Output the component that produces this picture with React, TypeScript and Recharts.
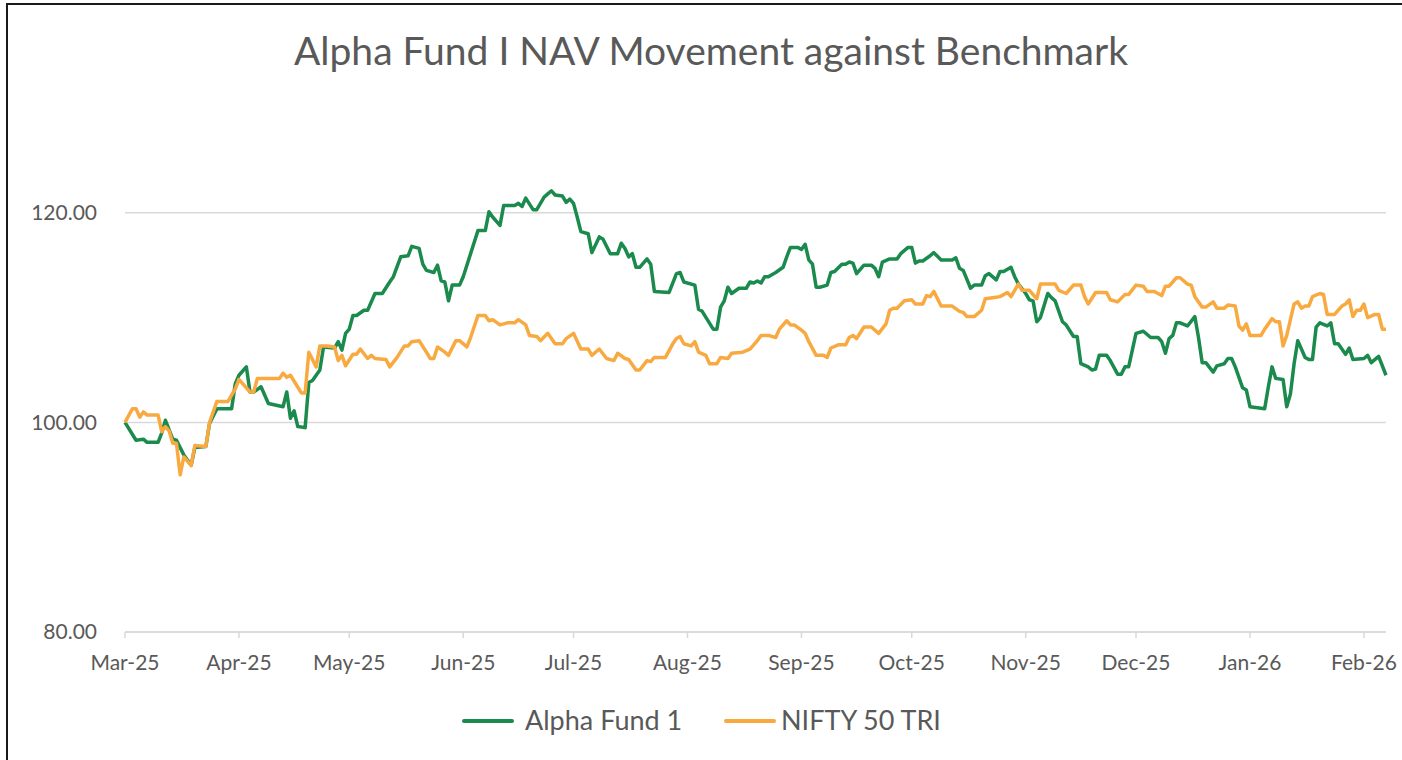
import { CartesianGrid, Line, LineChart, XAxis, YAxis } from "recharts"

// days counted from 1 Mar 2025
const fundDays = [
  0, 3, 5, 6, 9, 10, 11, 13, 14, 16,
  18, 19, 22, 23, 25, 29, 30, 31, 33, 34,
  35, 37, 39, 43, 44, 45, 46, 47, 49, 50,
  51, 53, 54, 57, 58, 59, 60, 61, 62, 63,
  65, 66, 68, 70, 72, 73, 75, 77, 78, 80,
  81, 82, 84, 85, 86, 87, 88, 89, 91, 92,
  94, 96, 98, 99, 100, 102, 103, 106, 107, 108,
  109, 111, 112, 114, 115, 116, 117, 119, 120, 121,
  122, 123, 124, 126, 127, 129, 130, 132, 134, 135,
  136, 137, 138, 139, 140, 142, 143, 144, 148, 150,
  151, 152, 155, 156, 157, 160, 161, 162, 163, 164,
  165, 167, 169, 170, 171, 172, 173, 174, 175, 177,
  179, 180, 181, 183, 184, 185, 186, 187, 188, 189,
  191, 192, 193, 195, 196, 197, 198, 199, 201, 203,
  204, 205, 206, 208, 210, 211, 213, 214, 215, 216,
  217, 219, 220, 222, 225, 226, 227, 228, 230, 231,
  233, 234, 235, 237, 238, 239, 241, 242, 243, 245,
  246, 247, 248, 249, 251, 252, 253, 255, 256, 258,
  259, 260, 262, 263, 264, 265, 267, 268, 270, 271,
  272, 273, 274, 275, 277, 279, 281, 282, 283, 284,
  285, 286, 287, 289, 291, 292, 293, 294, 296, 297,
  299, 300, 301, 302, 304, 305, 306, 310, 311, 312,
  313, 315, 316, 317, 318, 319, 321, 322, 323, 324,
  325, 327, 328, 329, 330, 332, 333, 334, 337, 338,
  339, 341, 343,
]

const fundNav = [
  100.0, 98.3, 98.4, 98.1, 98.1, 99.0, 100.2, 98.4, 98.3, 96.9,
  95.9, 97.6, 97.7, 99.9, 101.3, 101.3, 103.7, 104.5, 105.3, 102.9,
  102.9, 103.4, 101.8, 101.5, 102.9, 100.4, 101.1, 99.6, 99.5, 103.8,
  104.0, 105.0, 107.2, 107.1, 107.7, 106.9, 108.5, 108.9, 110.2, 110.2,
  110.7, 110.7, 112.3, 112.3, 113.4, 113.9, 115.8, 115.9, 116.8, 116.6,
  115.1, 114.5, 114.3, 115.0, 113.5, 113.4, 111.6, 113.1, 113.1, 113.9,
  116.1, 118.3, 118.3, 120.1, 119.6, 118.8, 120.7, 120.7, 120.9, 120.6,
  121.4, 120.3, 120.3, 121.5, 121.8, 122.1, 121.7, 121.6, 121.0, 121.3,
  120.9, 119.6, 118.2, 118.0, 116.2, 117.7, 117.5, 116.1, 116.1, 117.1,
  116.6, 115.8, 116.1, 114.8, 114.8, 115.6, 115.1, 112.5, 112.4, 114.2,
  114.3, 113.4, 113.1, 110.8, 110.6, 108.9, 108.9, 111.0, 111.6, 112.9,
  112.3, 112.8, 112.8, 113.4, 113.3, 113.5, 113.3, 113.9, 113.9, 114.3,
  114.8, 115.8, 116.7, 116.7, 116.5, 117.0, 115.5, 115.1, 112.9, 112.9,
  113.1, 114.3, 114.4, 115.1, 115.1, 115.3, 115.2, 114.2, 115.0, 115.0,
  114.7, 113.9, 115.3, 115.6, 115.6, 116.1, 116.7, 116.7, 115.2, 115.4,
  115.4, 115.9, 116.2, 115.5, 115.5, 115.7, 114.7, 114.5, 112.8, 113.1,
  113.1, 114.0, 114.2, 113.6, 114.4, 114.4, 114.8, 113.9, 113.2, 112.3,
  111.7, 111.6, 109.6, 110.0, 112.3, 111.9, 111.6, 109.6, 109.3, 108.2,
  108.2, 105.6, 105.3, 105.0, 105.1, 106.4, 106.4, 105.9, 104.6, 104.6,
  105.3, 105.3, 106.9, 108.5, 108.7, 108.1, 108.1, 107.7, 106.6, 108.0,
  108.3, 109.5, 109.5, 109.2, 110.1, 108.1, 105.7, 105.7, 104.8, 105.4,
  105.6, 106.1, 106.1, 105.3, 103.3, 103.1, 101.5, 101.3, 103.4, 105.3,
  104.2, 104.1, 101.5, 102.7, 105.6, 107.8, 106.2, 106.0, 106.0, 109.1,
  109.5, 109.2, 109.5, 107.5, 107.5, 106.5, 107.1, 106.0, 106.1, 106.4,
  105.7, 106.3, 104.5,
]

const benchDays = [
  0, 2, 3, 4, 5, 6, 9, 10, 11, 12,
  13, 14, 15, 16, 18, 19, 22, 23, 25, 28,
  30, 31, 34, 35, 36, 42, 43, 44, 45, 48,
  49, 50, 52, 53, 55, 57, 58, 59, 60, 62,
  63, 64, 66, 67, 68, 71, 72, 74, 76, 77,
  78, 80, 82, 83, 84, 85, 87, 88, 90, 91,
  93, 94, 96, 98, 99, 100, 102, 104, 106, 107,
  109, 110, 112, 113, 115, 117, 119, 120, 122, 124,
  126, 127, 129, 131, 133, 134, 136, 137, 139, 140,
  142, 143, 144, 147, 149, 150, 151, 152, 154, 155,
  156, 158, 159, 161, 162, 164, 165, 168, 170, 172,
  173, 175, 177, 178, 180, 181, 182, 184, 185, 186,
  188, 190, 191, 192, 194, 196, 197, 198, 199, 201,
  203, 205, 207, 208, 209, 210, 212, 214, 215, 217,
  218, 219, 220, 222, 225, 227, 228, 229, 231, 233,
  234, 236, 238, 240, 241, 243, 244, 246, 248, 249,
  251, 253, 254, 256, 258, 260, 261, 262, 264, 267,
  268, 270, 272, 273, 275, 277, 278, 280, 282, 283,
  284, 286, 287, 289, 290, 291, 293, 294, 296, 297,
  299, 300, 302, 303, 304, 305, 306, 309, 310, 312,
  313, 314, 315, 316, 318, 319, 320, 321, 322, 323,
  325, 326, 327, 329, 331, 332, 333, 334, 335, 336,
  337, 338, 340, 341, 342, 343,
]

const benchNav = [
  100.0, 101.3, 101.3, 100.5, 101.0, 100.7, 100.7, 99.1, 99.6, 99.2,
  98.0, 98.0, 95.0, 96.7, 95.9, 97.8, 97.7, 100.0, 102.0, 102.0,
  103.2, 104.1, 102.9, 102.9, 104.2, 104.2, 104.7, 104.3, 104.5, 102.8,
  102.8, 106.7, 105.3, 107.3, 107.3, 107.2, 105.9, 106.4, 105.4, 106.5,
  106.5, 107.0, 106.1, 106.4, 106.1, 106.0, 105.3, 106.2, 107.3, 107.3,
  107.7, 107.8, 106.7, 106.1, 106.1, 107.2, 106.7, 106.4, 107.8, 107.8,
  107.2, 108.1, 110.2, 110.2, 109.7, 109.8, 109.3, 109.5, 109.5, 109.8,
  109.3, 108.3, 108.2, 107.8, 108.5, 107.5, 107.5, 108.0, 108.5, 107.0,
  107.0, 106.4, 107.0, 106.1, 105.9, 106.6, 106.1, 106.0, 105.0, 105.0,
  105.9, 105.8, 106.2, 106.2, 107.5, 108.0, 108.2, 107.5, 107.3, 107.7,
  106.7, 106.4, 105.6, 105.6, 106.2, 106.1, 106.6, 106.7, 107.0, 107.8,
  108.3, 108.3, 108.1, 108.9, 109.7, 109.3, 109.3, 108.8, 108.5, 107.7,
  106.4, 106.4, 106.2, 107.1, 107.4, 107.4, 108.1, 108.3, 108.0, 109.1,
  109.1, 108.5, 109.4, 110.7, 110.9, 110.9, 111.6, 111.7, 111.3, 111.3,
  112.1, 112.0, 112.5, 111.1, 111.1, 110.6, 110.5, 110.1, 110.1, 110.7,
  111.8, 111.9, 112.0, 112.4, 112.0, 113.2, 112.6, 112.6, 111.8, 113.2,
  113.2, 113.2, 112.6, 112.3, 113.1, 113.1, 112.0, 111.3, 112.4, 112.4,
  111.7, 111.5, 112.2, 112.2, 113.1, 113.0, 112.5, 112.5, 112.1, 113.0,
  113.0, 113.8, 113.8, 113.2, 113.1, 112.0, 111.0, 111.0, 111.5, 110.9,
  110.9, 111.2, 111.1, 109.2, 108.8, 109.4, 108.3, 108.3, 108.9, 109.9,
  109.6, 109.6, 107.3, 108.3, 111.3, 111.5, 110.9, 111.1, 111.1, 112.0,
  112.3, 112.2, 110.3, 110.3, 111.1, 111.3, 111.7, 110.1, 110.7, 110.7,
  111.3, 110.0, 110.3, 110.3, 108.9, 108.9,
]

const monthDays = [0, 31, 61, 92, 122, 153, 184, 214, 245, 275, 306, 337]
const monthLabels = [
  "Mar-25", "Apr-25", "May-25", "Jun-25", "Jul-25", "Aug-25",
  "Sep-25", "Oct-25", "Nov-25", "Dec-25", "Jan-26", "Feb-26",
]
const yTicks = [80, 100, 120]

const GREEN = "#1b8a4d"
const ORANGE = "#f8a940"
const TEXT = "#595959"
const GRID = "#d9d9d9"
const FONT = "Lato, 'Open Sans', sans-serif"

const fundByDay = new Map(fundDays.map((d, i) => [d, fundNav[i]]))
const benchByDay = new Map(benchDays.map((d, i) => [d, benchNav[i]]))
const allDays = Array.from(new Set([...fundDays, ...benchDays])).sort((a, b) => a - b)
const rows = allDays.map((d) => ({
  day: d,
  fund: fundByDay.get(d) ?? null,
  bench: benchByDay.get(d) ?? null,
}))

const tickStyle = { fill: TEXT, fontSize: 21, fontFamily: FONT }

export default function App() {
  return (
    <div
      style={{
        position: "absolute",
        left: 0,
        top: 0,
        width: 1402,
        height: 760,
        overflow: "hidden",
        background: "#fff",
      }}
    >
      <div
        style={{
          position: "absolute",
          left: 6,
          top: 3,
          width: 1500,
          height: 900,
          border: "2px solid #1a1a1a",
        }}
      />
      <div style={{ position: "absolute", left: 0, top: 0 }}>
        <LineChart
          width={1402}
          height={760}
          data={rows}
          margin={{ top: 108, right: 16, bottom: 88, left: 25 }}
        >
          <CartesianGrid
            vertical={false}
            horizontalValues={yTicks}
            stroke={GRID}
            strokeWidth={1.5}
          />
          <XAxis
            dataKey="day"
            type="number"
            domain={[0, 343]}
            ticks={monthDays}
            interval={0}
            tickFormatter={(v: number) => monthLabels[monthDays.indexOf(v)] ?? ""}
            height={40}
            stroke={GRID}
            strokeWidth={1.5}
            tickSize={6}
            tickMargin={17}
            tick={tickStyle}
          />
          <YAxis
            domain={[80, 130]}
            ticks={yTicks}
            interval={0}
            width={100}
            axisLine={false}
            tickLine={false}
            tickSize={0}
            tickMargin={28}
            tickFormatter={(v: number) => v.toFixed(2)}
            tick={tickStyle}
          />
          <Line
            type="linear"
            dataKey="fund"
            name="Alpha Fund 1"
            stroke={GREEN}
            strokeWidth={3.5}
            strokeLinejoin="round"
            dot={false}
            connectNulls
            isAnimationActive={false}
          />
          <Line
            type="linear"
            dataKey="bench"
            name="NIFTY 50 TRI"
            stroke={ORANGE}
            strokeWidth={3.5}
            strokeLinejoin="round"
            dot={false}
            connectNulls
            isAnimationActive={false}
          />
        </LineChart>
      </div>
      <svg
        width={1402}
        height={760}
        style={{ position: "absolute", left: 0, top: 0, pointerEvents: "none" }}
      >
        <text x={711} y={65} textAnchor="middle" fontSize={39} fill={TEXT} fontFamily={FONT}>
          Alpha Fund I NAV Movement against Benchmark
        </text>
        <line x1={464} y1={721} x2={512} y2={721} stroke={GREEN} strokeWidth={4} strokeLinecap="round" />
        <text x={525} y={730} fontSize={27} fill={TEXT} fontFamily={FONT}>
          Alpha Fund 1
        </text>
        <line x1={726} y1={721} x2={774} y2={721} stroke={ORANGE} strokeWidth={4} strokeLinecap="round" />
        <text x={781} y={730} fontSize={27} fill={TEXT} fontFamily={FONT}>
          NIFTY 50 TRI
        </text>
      </svg>
    </div>
  )
}
